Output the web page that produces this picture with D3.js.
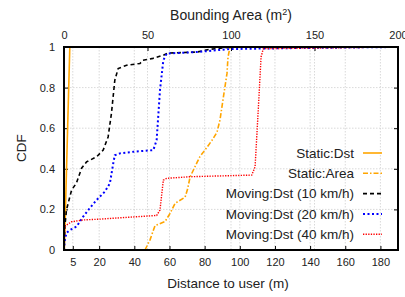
<!DOCTYPE html>
<html>
<head>
<meta charset="utf-8">
<script src="https://cdn.jsdelivr.net/npm/d3@7"></script>
<style>
  html, body { margin: 0; padding: 0; background: #fff; overflow: hidden; }
  svg { display: block; }
  text { font-family: "Liberation Sans", Arial, sans-serif; fill: #222; }
</style>
</head>
<body>
<div id="chart"></div>
<script>
// CDF curves, distance (m) on the bottom axis, area (m^2) on the top axis

// Static:Dst (distance)
const staticDstX = [0.2, 3.3];
const staticDstY = [0, 1];

// Static:Area (bounding area, top axis)
const staticAreaX = [48.5, 51.5, 54.5, 60.5, 63.5, 66.5, 72.5, 74, 75.5, 79.6, 81.4, 86, 88.6, 91.6, 93.4, 95.2, 97.6, 98.2, 99.4, 200];
const staticAreaY = [0, 0.05, 0.12, 0.14, 0.18, 0.23, 0.26, 0.30, 0.36, 0.43, 0.46, 0.51, 0.54, 0.58, 0.64, 0.74, 0.87, 0.95, 1, 1];

// Moving:Dst (10 km/h)
const moving10X = [0, 0.5, 1.4, 4.3, 7.1, 10, 12.8, 18.5, 22.3, 25.1, 27, 28.9, 30.8, 35.6, 43.2, 44.9, 50.6, 56.3, 59.1, 75.7, 83.1, 94.5, 190];
const moving10Y = [0, 0.115, 0.197, 0.295, 0.33, 0.403, 0.434, 0.459, 0.492, 0.557, 0.674, 0.836, 0.894, 0.91, 0.919, 0.935, 0.944, 0.959, 0.97, 0.975, 0.989, 0.999, 1];

// Moving:Dst (20 km/h)
const moving20X = [0, 0.5, 1.4, 3.3, 7.1, 10.9, 14.7, 18.5, 23.2, 26.1, 28, 28.9, 31.8, 39.4, 50.8, 52.7, 54.6, 56.5, 58.4, 75.5, 94.5, 134, 190];
const moving20Y = [0, 0.05, 0.084, 0.098, 0.115, 0.164, 0.207, 0.246, 0.287, 0.328, 0.426, 0.467, 0.476, 0.484, 0.492, 0.541, 0.787, 0.935, 0.968, 0.975, 0.99, 0.995, 1];

// Moving:Dst (40 km/h)
const moving40X = [0, 0.3, 0.5, 1.4, 4.3, 10.9, 20.4, 43.2, 52.7, 54.6, 56.5, 58.4, 71.7, 106.8, 108.7, 110.6, 112.1, 113.4, 190];
const moving40Y = [0, 0.07, 0.115, 0.123, 0.139, 0.148, 0.152, 0.165, 0.17, 0.197, 0.344, 0.353, 0.361, 0.369, 0.41, 0.705, 0.951, 0.992, 1];

const bottomTicks = [5, 20, 40, 60, 80, 100, 120, 140, 160, 180];
const topTicks = [0, 50, 100, 150, 200];
const yTicks = [0, 0.2, 0.4, 0.6, 0.8, 1];

const seriesNames = ["Static:Dst", "Static:Area", "Moving:Dst (10 km/h)", "Moving:Dst (20 km/h)", "Moving:Dst (40 km/h)"];

const width = 405;
const height = 297;
const margin = {top: 47, right: 7, bottom: 47, left: 64};
const innerWidth = width - margin.left - margin.right;
const innerHeight = height - margin.top - margin.bottom;

const svg = d3.select("#chart")
    .append("svg")
    .attr("width", width)
    .attr("height", height);

const chart = svg.append("g")
    .attr("transform", `translate(${margin.left}, ${margin.top})`);

// scales
const xScale = d3.scaleLinear().domain([0, 190]).range([0, innerWidth]);
const x2Scale = d3.scaleLinear().domain([0, 200]).range([0, innerWidth]);
const yScale = d3.scaleLinear().domain([0, 1]).range([innerHeight, 0]);

// grid lines (both x axes + y)
const grid = chart.append("g")
    .attr("stroke", "#cfcfcf")
    .attr("stroke-width", 0.8)
    .attr("stroke-dasharray", "1.5,1.5");

grid.selectAll("line.gx")
    .data(bottomTicks)
    .enter()
    .append("line")
    .attr("x1", d => xScale(d))
    .attr("x2", d => xScale(d))
    .attr("y1", 0)
    .attr("y2", innerHeight);

grid.selectAll("line.gx2")
    .data(topTicks.filter(d => d > 0 && d < 200))
    .enter()
    .append("line")
    .attr("x1", d => x2Scale(d))
    .attr("x2", d => x2Scale(d))
    .attr("y1", 0)
    .attr("y2", innerHeight);

grid.selectAll("line.gy")
    .data(yTicks.filter(d => d > 0 && d < 1))
    .enter()
    .append("line")
    .attr("x1", 0)
    .attr("x2", innerWidth)
    .attr("y1", d => yScale(d))
    .attr("y2", d => yScale(d));

// axes, ticks point inward like gnuplot
const bottomAxis = chart.append("g")
    .attr("transform", `translate(0, ${innerHeight})`)
    .call(d3.axisBottom(xScale).tickValues(bottomTicks).tickSizeInner(-4).tickSizeOuter(0).tickPadding(8));

const topAxis = chart.append("g")
    .call(d3.axisTop(x2Scale).tickValues(topTicks).tickSizeInner(-4).tickSizeOuter(0).tickPadding(8));

const leftAxis = chart.append("g")
    .call(d3.axisLeft(yScale).tickValues(yTicks).tickFormat(d3.format("~g")).tickSizeInner(-4).tickSizeOuter(0).tickPadding(9));

const rightAxis = chart.append("g")
    .attr("transform", `translate(${innerWidth}, 0)`)
    .call(d3.axisRight(yScale).tickValues(yTicks).tickSizeInner(-4).tickSizeOuter(0));
rightAxis.selectAll("text").remove();

[bottomAxis, topAxis, leftAxis, rightAxis].forEach(a => {
    a.select(".domain").remove();
    a.selectAll("line").attr("stroke", "#000").attr("stroke-width", 1);
    a.selectAll("text").style("font-size", "11px").style("font-family", "Liberation Sans, Arial, sans-serif").attr("fill", "#222");
});

// curves
const styles = [
    {color: "#FFA500", dash: null, width: 1.6},
    {color: "#FFA500", dash: "5,2,1.5,2", width: 1.6},
    {color: "#000000", dash: "4,3", width: 1.6},
    {color: "#0000FF", dash: "2,2.5", width: 2},
    {color: "#FF0000", dash: "1.3,1.3", width: 1.4}
];

const seriesData = [
    {xs: staticDstX, ys: staticDstY, scale: xScale},
    {xs: staticAreaX, ys: staticAreaY, scale: x2Scale},
    {xs: moving10X, ys: moving10Y, scale: xScale},
    {xs: moving20X, ys: moving20Y, scale: xScale},
    {xs: moving40X, ys: moving40Y, scale: xScale}
];

const plot = chart.append("g");

seriesData.forEach((s, i) => {
    const pts = s.xs.map((x, j) => [x, s.ys[j]]);
    const line = d3.line()
        .x(d => s.scale(d[0]))
        .y(d => yScale(d[1]));
    plot.append("path")
        .datum(pts)
        .attr("fill", "none")
        .attr("stroke", styles[i].color)
        .attr("stroke-width", styles[i].width)
        .attr("stroke-dasharray", styles[i].dash)
        .attr("d", line);
});

// frame
chart.append("rect")
    .attr("width", innerWidth)
    .attr("height", innerHeight)
    .attr("fill", "none")
    .attr("stroke", "#000")
    .attr("stroke-width", 2);

// axis titles
svg.append("text")
    .attr("x", margin.left + innerWidth / 2 - 3)
    .attr("y", 288)
    .attr("text-anchor", "middle")
    .style("font-size", "13.5px")
    .text("Distance to user (m)");

const topTitle = svg.append("text")
    .attr("x", 231)
    .attr("y", 20)
    .attr("text-anchor", "middle")
    .style("font-size", "14px")
    .text("Bounding Area (m");
topTitle.append("tspan").attr("dy", -5).style("font-size", "9px").text("2");
topTitle.append("tspan").attr("dy", 5).text(")");

svg.append("text")
    .attr("transform", "rotate(-90)")
    .attr("x", -148)
    .attr("y", 26)
    .attr("text-anchor", "middle")
    .style("font-size", "13.5px")
    .text("CDF");

// legend
const legend = svg.append("g");
seriesNames.forEach((name, i) => {
    const yy = 153 + i * 20.3;
    legend.append("text")
        .attr("x", 354)
        .attr("y", yy)
        .attr("dy", "0.35em")
        .attr("text-anchor", "end")
        .style("font-size", "13.5px")
        .text(name);
    legend.append("line")
        .attr("x1", 363)
        .attr("x2", 382)
        .attr("y1", yy)
        .attr("y2", yy)
        .attr("stroke", styles[i].color)
        .attr("stroke-width", styles[i].width)
        .attr("stroke-dasharray", styles[i].dash);
});
</script>
</body>
</html>
